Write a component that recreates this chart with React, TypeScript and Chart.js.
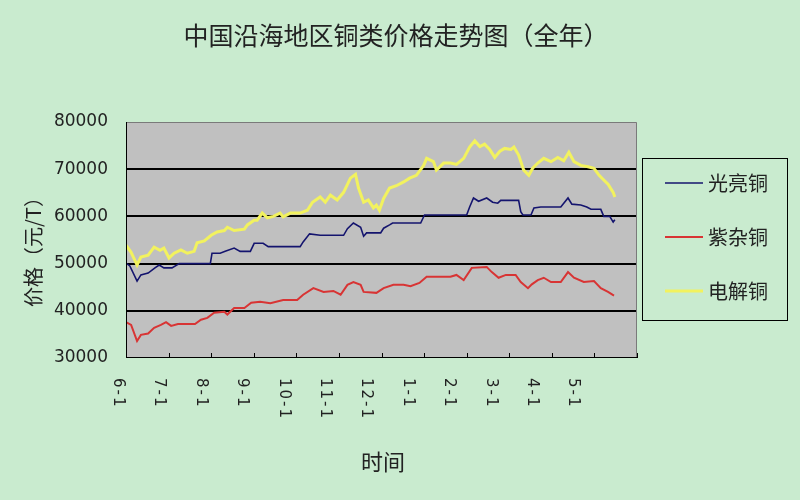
import { useEffect, useRef } from 'react';
import { Chart, registerables } from 'chart.js';

Chart.register(...registerables);

// ---- data ----
const monthLabels = ['6-1', '7-1', '8-1', '9-1', '10-1', '11-1', '12-1', '1-1', '2-1', '3-1', '4-1', '5-1'];
const seriesNames = ['光亮铜', '紫杂铜', '电解铜'];

// x positions in months since 6-1
const brightX = [0, 0.09, 0.26, 0.35, 0.52, 0.68, 0.78, 0.89, 1.08, 1.25, 1.98, 2.02, 2.21, 2.33, 2.54, 2.68, 2.92, 3.01, 3.22, 3.34, 4.09, 4.16, 4.31, 4.56, 5.11, 5.2, 5.34, 5.51, 5.58, 5.65, 5.98, 6.05, 6.19, 6.26, 6.92, 7.01, 8.0, 8.07, 8.16, 8.28, 8.47, 8.61, 8.73, 8.8, 9.22, 9.27, 9.32, 9.51, 9.58, 9.74, 10.21, 10.38, 10.47, 10.68, 10.82, 10.92, 11.15, 11.22, 11.36, 11.44, 11.48];
const brightY = [50100, 49500, 46300, 47600, 48000, 49100, 49700, 49100, 49100, 50000, 50000, 52200, 52200, 52600, 53300, 52600, 52600, 54300, 54300, 53600, 53600, 54600, 56300, 56000, 56000, 57400, 58600, 57700, 55800, 56500, 56500, 57500, 58200, 58600, 58600, 60300, 60300, 62000, 63900, 63200, 63900, 63000, 62800, 63400, 63400, 61000, 60300, 60300, 61800, 62000, 62000, 63900, 62600, 62400, 62000, 61500, 61500, 60000, 60000, 58800, 59300];

const scrapX = [0, 0.12, 0.26, 0.35, 0.52, 0.66, 0.82, 0.94, 1.06, 1.22, 1.62, 1.76, 1.91, 2.07, 2.31, 2.38, 2.54, 2.78, 2.94, 3.15, 3.39, 3.69, 4.02, 4.16, 4.4, 4.64, 4.87, 5.04, 5.2, 5.34, 5.51, 5.58, 5.88, 6.05, 6.28, 6.52, 6.68, 6.89, 7.06, 7.62, 7.76, 7.93, 8.12, 8.47, 8.59, 8.75, 8.92, 9.15, 9.27, 9.44, 9.53, 9.67, 9.81, 9.98, 10.21, 10.38, 10.52, 10.75, 10.99, 11.15, 11.32, 11.46];
const scrapY = [37600, 37000, 33600, 34900, 35200, 36400, 37000, 37600, 36800, 37200, 37200, 38100, 38500, 39600, 39800, 39200, 40600, 40600, 41700, 41900, 41600, 42300, 42300, 43400, 44800, 44000, 44200, 43400, 45500, 46100, 45500, 44000, 43800, 44800, 45500, 45500, 45200, 45900, 47200, 47200, 47600, 46500, 49100, 49300, 48200, 47000, 47600, 47600, 46100, 44800, 45600, 46500, 47000, 46100, 46100, 48200, 47000, 46100, 46300, 44800, 44000, 43200];

const cathodeX = [0, 0.12, 0.26, 0.35, 0.52, 0.66, 0.8, 0.89, 1.01, 1.13, 1.29, 1.44, 1.6, 1.67, 1.84, 2.0, 2.14, 2.31, 2.38, 2.54, 2.78, 2.85, 3.01, 3.08, 3.2, 3.32, 3.46, 3.62, 3.69, 3.86, 4.09, 4.26, 4.38, 4.56, 4.68, 4.8, 4.96, 5.11, 5.27, 5.39, 5.46, 5.58, 5.69, 5.81, 5.88, 5.95, 6.05, 6.19, 6.35, 6.52, 6.66, 6.82, 6.99, 7.06, 7.22, 7.29, 7.46, 7.62, 7.76, 7.93, 8.07, 8.19, 8.31, 8.42, 8.54, 8.66, 8.78, 8.89, 9.04, 9.11, 9.22, 9.34, 9.46, 9.55, 9.67, 9.81, 9.98, 10.14, 10.28, 10.4, 10.52, 10.68, 10.85, 10.99, 11.11, 11.22, 11.32, 11.44, 11.48];
const cathodeY = [53900, 52400, 49700, 51400, 51800, 53500, 52800, 53300, 51200, 52200, 52900, 52200, 52600, 54400, 54800, 56000, 56700, 57000, 57700, 57000, 57300, 58200, 59200, 59200, 60700, 59700, 60000, 60700, 59900, 60700, 60700, 61300, 63000, 64100, 63000, 64500, 63500, 65100, 68100, 68900, 66000, 63000, 63500, 61800, 62400, 61300, 63800, 66000, 66500, 67300, 68100, 68700, 70800, 72300, 71600, 69800, 71300, 71300, 71000, 72300, 74700, 76000, 74800, 75300, 74200, 72500, 73800, 74400, 74200, 74700, 73000, 69800, 68700, 70200, 71300, 72300, 71600, 72500, 71800, 73600, 71600, 70800, 70500, 70200, 68700, 67700, 66800, 65100, 64100];

const BG = '#c9ebcf';
const colors = ['#14146e', '#d83434', '#f2f25e'];
const widths = [1.6, 2, 3];

function zip(xs: number[], ys: number[]) {
  return xs.map((x, i) => ({ x, y: ys[i] }));
}

export default function App() {
  const ref = useRef<HTMLCanvasElement>(null);

  useEffect(() => {
    if (!ref.current) return;
    const deco = {
      id: 'deco',
      beforeDraw(chart: any) {
        const { ctx, chartArea: a } = chart;
        ctx.save();
        ctx.fillStyle = BG;
        ctx.fillRect(0, 0, chart.width, chart.height);
        ctx.fillStyle = '#c0c0c0';
        ctx.fillRect(a.left, a.top, a.right - a.left, a.bottom - a.top);
        ctx.restore();
      },
      afterDraw(chart: any) {
        const { ctx, chartArea: a } = chart;
        const xs = chart.scales.x;
        ctx.save();
        // frame
        ctx.lineWidth = 1;
        ctx.strokeStyle = '#7a7a7a';
        ctx.beginPath();
        ctx.moveTo(a.left, a.top + 0.5);
        ctx.lineTo(a.right - 0.5, a.top + 0.5);
        ctx.lineTo(a.right - 0.5, a.bottom);
        ctx.stroke();
        ctx.strokeStyle = '#000';
        ctx.beginPath();
        ctx.moveTo(a.left + 0.5, a.top);
        ctx.lineTo(a.left + 0.5, a.bottom - 0.5);
        ctx.lineTo(a.right, a.bottom - 0.5);
        ctx.stroke();
        // x ticks (inward)
        ctx.beginPath();
        for (let i = 0; i <= monthLabels.length; i++) {
          const px = Math.round(xs.getPixelForValue(i)) + 0.5;
          ctx.moveTo(px, a.bottom);
          ctx.lineTo(px, a.bottom - 5);
        }
        ctx.stroke();
        // x labels rotated clockwise
        ctx.fillStyle = '#222';
        ctx.font = '15px "DejaVu Sans"';
        (ctx as any).letterSpacing = '2px';
        ctx.textAlign = 'left';
        ctx.textBaseline = 'middle';
        monthLabels.forEach((lab, i) => {
          const px = xs.getPixelForValue(i * 0.972 - 0.19);
          ctx.save();
          ctx.translate(px, a.bottom + 20);
          ctx.rotate(Math.PI / 2);
          ctx.fillText(lab, 0, 0);
          ctx.restore();
        });
        (ctx as any).letterSpacing = '0px';
        // title
        ctx.fillStyle = '#222';
        ctx.textAlign = 'center';
        ctx.textBaseline = 'middle';
        ctx.font = '25px "Noto Sans CJK SC"';
        ctx.fillText('中国沿海地区铜类价格走势图（全年）', 396, 35);
        // x title
        ctx.font = '22px "Noto Sans CJK SC"';
        ctx.fillText('时间', 383, 462);
        // y title
        ctx.save();
        ctx.translate(33, 247);
        ctx.rotate(-Math.PI / 2);
        ctx.font = '20px "Noto Sans CJK SC"';
        ctx.fillText('价格（元/T）', 0, 0);
        ctx.restore();
        // legend
        ctx.strokeStyle = '#000';
        ctx.lineWidth = 1;
        ctx.strokeRect(642.5, 158.5, 145, 162);
        const ly = [183, 237, 291];
        seriesNames.forEach((name, i) => {
          ctx.strokeStyle = colors[i];
          ctx.lineWidth = widths[i];
          ctx.beginPath();
          ctx.moveTo(665, ly[i]);
          ctx.lineTo(703, ly[i]);
          ctx.stroke();
          ctx.fillStyle = '#222';
          ctx.textAlign = 'left';
          ctx.font = '20px "Noto Sans CJK SC"';
          ctx.fillText(name, 708, ly[i]);
        });
        ctx.restore();
      },
    };

    const chart = new Chart(ref.current, {
      type: 'line',
      data: {
        datasets: [
          { label: seriesNames[0], data: zip(brightX, brightY), borderColor: colors[0], borderWidth: widths[0] },
          { label: seriesNames[1], data: zip(scrapX, scrapY), borderColor: colors[1], borderWidth: widths[1] },
          { label: seriesNames[2], data: zip(cathodeX, cathodeY), borderColor: colors[2], borderWidth: widths[2] },
        ],
      },
      options: {
        responsive: false,
        animation: false,
        events: [],
        layout: { padding: { top: 122, right: 163, bottom: 0, left: 0 } },
        elements: { point: { radius: 0 }, line: { tension: 0 } },
        plugins: { legend: { display: false }, tooltip: { enabled: false }, title: { display: false } },
        scales: {
          x: {
            type: 'linear',
            min: 0,
            max: 12,
            grid: { display: false },
            border: { display: false },
            ticks: { display: false },
            afterFit(s: any) { s.height = 142; },
          },
          y: {
            min: 30000,
            max: 80000,
            ticks: {
              stepSize: 10000,
              padding: 18,
              color: '#222',
              font: { family: 'DejaVu Sans', size: 17 },
              callback: (v: any) => String(v),
            },
            grid: {
              drawTicks: false,
              color: (c: any) => (c.tick && (c.tick.value === 30000 || c.tick.value === 80000) ? 'rgba(0,0,0,0)' : '#000'),
              lineWidth: 2,
            },
            border: { display: false },
            afterFit(s: any) { s.width = 126; },
          },
        },
      },
      plugins: [deco],
    } as any);
    return () => chart.destroy();
  }, []);

  return (
    <div style={{ position: 'absolute', left: 0, top: 0, width: 800, height: 500 }}>
      <canvas ref={ref} width={800} height={500} />
    </div>
  );
}
